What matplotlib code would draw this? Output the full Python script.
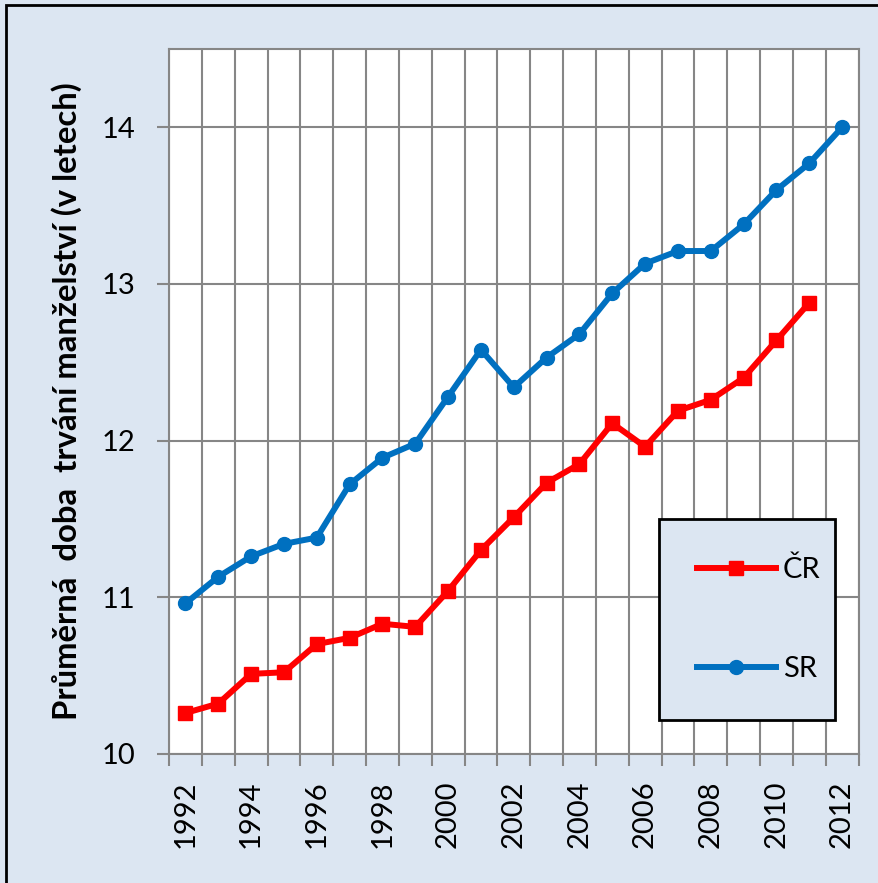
import matplotlib
matplotlib.use("Agg")
import matplotlib.pyplot as plt
from matplotlib.patches import Rectangle
from matplotlib.ticker import FixedLocator, NullFormatter, FixedFormatter

plt.rcParams["font.family"] = ["Lato", "DejaVu Sans"]

years = list(range(1992, 2013))
cr_years = list(range(1992, 2012))
cr_values = [10.26, 10.32, 10.51, 10.52, 10.70, 10.74, 10.83, 10.81, 11.04, 11.30,
             11.51, 11.73, 11.85, 12.11, 11.96, 12.19, 12.26, 12.40, 12.64, 12.88]
sr_values = [10.96, 11.13, 11.26, 11.34, 11.38, 11.72, 11.89, 11.98, 12.28, 12.58,
             12.34, 12.53, 12.68, 12.94, 13.13, 13.21, 13.21, 13.38, 13.60, 13.77,
             14.00]
y_ticks = [10, 11, 12, 13, 14]

bg = "#DCE6F2"
grid_c = "#868686"

fig = plt.figure(figsize=(8.79, 8.83), dpi=100, facecolor=bg)
ax = fig.add_axes([0.1923, 0.1464, 0.7844, 0.7981])
ax.set_facecolor("white")

x_cr = [years.index(y) for y in cr_years]
x_sr = list(range(len(years)))
ax.plot(x_cr, cr_values, color="#FF0000", lw=4.3, marker="s", ms=10.5,
        label="ČR", zorder=3)
ax.plot(x_sr, sr_values, color="#0070C0", lw=4.3, marker="o", ms=10,
        label="SR", zorder=3)

ax.set_xlim(-0.5, len(years) - 0.5)
ax.set_ylim(10, 14.5)

# category boundaries carry the ticks and grid, labels sit at centres
ax.xaxis.set_major_locator(FixedLocator([i - 0.5 for i in range(len(years) + 1)]))
ax.xaxis.set_major_formatter(NullFormatter())
lab_pos = [i for i in range(len(years)) if i % 2 == 0]
ax.xaxis.set_minor_locator(FixedLocator(lab_pos))
ax.xaxis.set_minor_formatter(FixedFormatter([str(years[i]) for i in lab_pos]))
ax.tick_params(axis="x", which="major", length=8.5, width=1.5, color=grid_c)
ax.tick_params(axis="x", which="minor", length=0, pad=19, labelsize=21,
               labelrotation=90)

ax.set_yticks(y_ticks)
ax.tick_params(axis="y", length=8.5, width=1.5, color=grid_c, pad=16,
               labelsize=21)

ax.grid(True, which="major", color=grid_c, lw=1.5, zorder=0)
ax.set_axisbelow(True)
for s in ax.spines.values():
    s.set_color(grid_c)
    s.set_linewidth(1.5)

fig.text(0.076, 0.546, "Průměrná  doba  trvání manželství (v letech)",
         rotation=90, ha="center", va="center", fontsize=23.7,
         fontweight="bold")

leg = ax.legend(loc="upper left", bbox_to_anchor=(0.7497, 0.1869, 0.2002, 0.2254),
                bbox_transform=fig.transFigure, mode="expand", fontsize=21,
                handlelength=2.7, handletextpad=0.25, borderpad=1.3,
                borderaxespad=0, labelspacing=2.5, fancybox=False, framealpha=1,
                facecolor=bg, edgecolor="black")
leg.get_frame().set_linewidth(2)

fig.patches.append(Rectangle((0.0063, -0.5), 2, 1.4949, transform=fig.transFigure,
                             fill=False, edgecolor="black", lw=2))

fig.savefig("out.png", dpi=100, facecolor=bg)
